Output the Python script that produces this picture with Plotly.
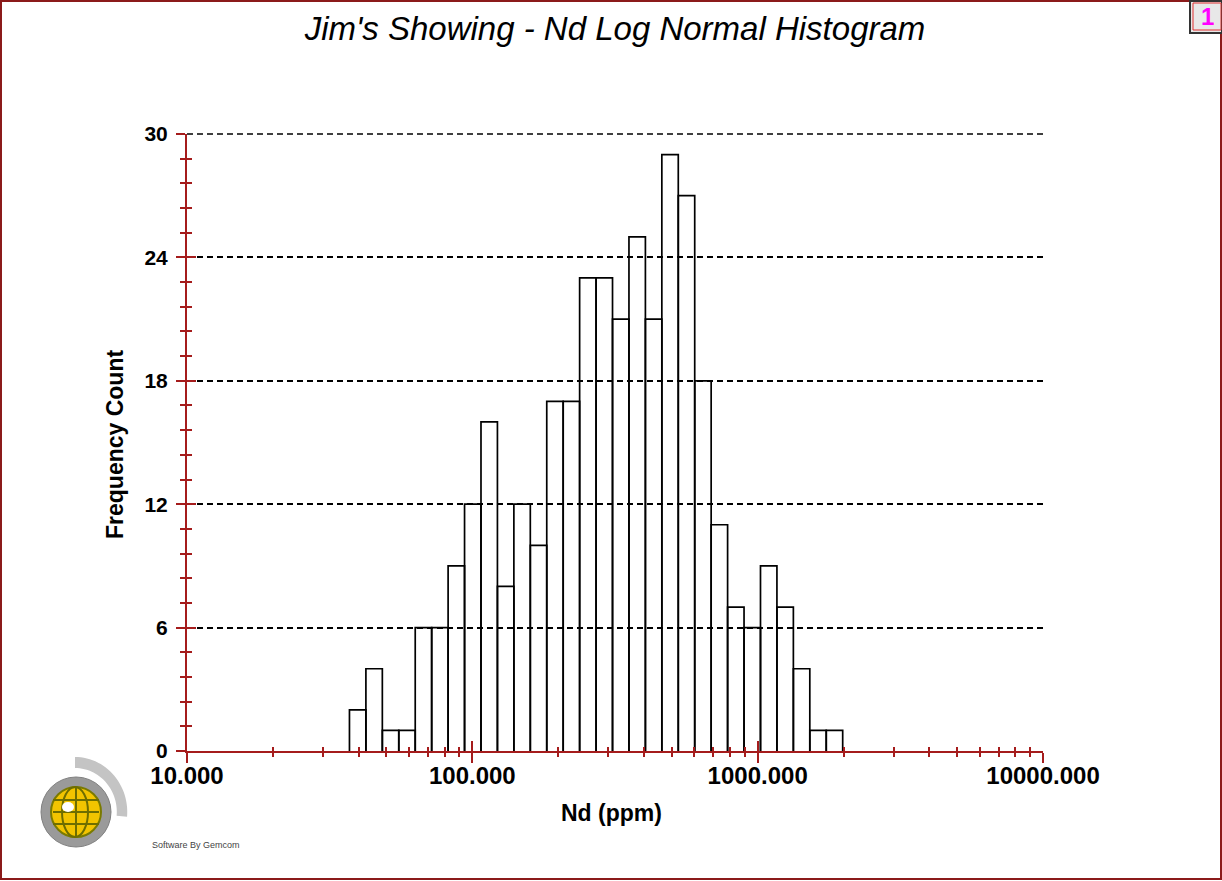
import numpy as np
import plotly.graph_objects as go

# ---- data ----
counts = [2, 4, 1, 1, 6, 6, 9, 12, 16, 8, 12, 10, 17, 17, 23, 23,
          21, 25, 21, 29, 27, 18, 11, 7, 6, 9, 7, 4, 1, 1]
bin_left_ppm = 37.1      # left edge of first bin (Nd ppm)
bin_right_ppm = 1986.0   # right edge of last bin (Nd ppm)
x_tick_vals = [10, 100, 1000, 10000]
x_tick_text = ["10.000", "100.000", "1000.000", "10000.000"]
y_tick_vals = [0, 6, 12, 18, 24, 30]

title_text = "Jim's Showing - Nd Log Normal Histogram"
x_title = "Nd (ppm)"
y_title = "Frequency Count"

# ---- layout geometry ----
W, H = 1222, 881
L, R, T, B = 187, 1043, 134, 751
PW, PH = R - L, B - T
RED = "#A51C1C"
FONT = "Liberation Sans, Arial, sans-serif"


def px(x):
    return (x - L) / PW


def py(y):
    return (B - y) / PH


edges = np.logspace(np.log10(bin_left_ppm), np.log10(bin_right_ppm), len(counts) + 1)
bx, by = [], []
for i, c in enumerate(counts):
    bx += [edges[i], edges[i], edges[i + 1], edges[i + 1], None]
    by += [0, c, c, 0, None]

fig = go.Figure()
fig.add_trace(go.Scatter(x=bx, y=by, mode="lines",
                         line=dict(color="black", width=1.7),
                         hoverinfo="skip", showlegend=False))
# invisible trace to activate overlay axes (for crossing ticks)
fig.add_trace(go.Scatter(x=[10], y=[0], xaxis="x2", yaxis="y2", mode="markers",
                         marker=dict(opacity=0), showlegend=False, hoverinfo="skip"))

minor_x = [m * d for d in (10, 100, 1000) for m in range(2, 10)]
minor_y = [round(v, 2) for v in np.arange(0, 30.01, 1.2) if all(abs(v - t) > 0.01 for t in y_tick_vals)]

xcommon = dict(type="log", range=[1, 4], tickvals=x_tick_vals, showgrid=False,
               zeroline=False, tickcolor=RED, tickwidth=2)
ycommon = dict(range=[0, 30], tickvals=y_tick_vals, zeroline=False,
               tickcolor=RED, tickwidth=2)

fig.update_layout(
    width=W, height=H,
    margin=dict(l=L, r=W - R, t=T, b=H - B),
    paper_bgcolor="white", plot_bgcolor="white",
    font=dict(family=FONT, color="black"),
    title=dict(text=title_text, x=(L + R) / 2 / W, xref="container", xanchor="center",
               y=1 - 28 / H, yref="container", yanchor="middle",
               font=dict(family=FONT, size=33, style="italic", color="black")),
    xaxis=dict(**xcommon, ticktext=x_tick_text, ticks="outside", ticklen=10,
               showline=True, linecolor=RED, linewidth=2, ticklabelstandoff=-8,
               tickfont=dict(family=FONT, size=24, weight="bold", color="black"),
               minor=dict(tickvals=minor_x, ticks="outside", ticklen=4,
                          tickcolor=RED, tickwidth=2, showgrid=False)),
    xaxis2=dict(**xcommon, overlaying="x", anchor="y", ticks="inside", ticklen=10,
                showticklabels=False, showline=False,
                minor=dict(tickvals=minor_x, ticks="inside", ticklen=4,
                           tickcolor=RED, tickwidth=2, showgrid=False)),
    yaxis=dict(**ycommon, ticks="outside", ticklen=9,
               showline=True, linecolor=RED, linewidth=2, ticklabelstandoff=4,
               showgrid=True, gridcolor="black", griddash="6px,4px", gridwidth=1.6,
               tickfont=dict(family=FONT, size=21, weight="bold", color="black"),
               minor=dict(tickvals=minor_y, ticks="outside", ticklen=5,
                          tickcolor=RED, tickwidth=2, showgrid=False)),
    yaxis2=dict(**ycommon, overlaying="y", anchor="x", side="left", ticks="inside",
                ticklen=9, showticklabels=False, showline=False, showgrid=False,
                minor=dict(tickvals=minor_y, ticks="inside", ticklen=5,
                           tickcolor=RED, tickwidth=2, showgrid=False)),
)

annotations = [
    dict(text=y_title, x=px(115), y=py(445), xref="paper", yref="paper",
         textangle=-90, showarrow=False, xanchor="center", yanchor="middle",
         font=dict(family=FONT, size=23, weight="bold", color="black")),
    dict(text=x_title, x=px(611), y=py(813), xref="paper", yref="paper",
         showarrow=False, xanchor="center", yanchor="middle",
         font=dict(family=FONT, size=23, weight="bold", color="black")),
    dict(text="Software By Gemcom", x=px(150), y=py(845), xref="paper", yref="paper",
         showarrow=False, xanchor="left", yanchor="middle",
         font=dict(family=FONT, size=9, color="#444444")),
    dict(text="1", x=px(1207), y=py(16), xref="paper", yref="paper",
         showarrow=False, xanchor="center", yanchor="middle",
         font=dict(family=FONT, size=24, weight="bold", color="#FF00FF")),
]
fig.update_layout(annotations=annotations)

shapes = []
# gridline at top of range (plotly omits it at the range edge)
shapes.append(dict(type="line", xref="paper", yref="paper", x0=0, x1=1, y0=1, y1=1,
                   line=dict(color="black", width=1.6, dash="6px,4px")))
# outer frame
shapes.append(dict(type="rect", xref="paper", yref="paper",
                   x0=px(1), x1=px(1221), y0=py(879), y1=py(1),
                   line=dict(color="#8B1A1A", width=2), layer="below"))
# top-right page box
shapes.append(dict(type="rect", xref="paper", yref="paper",
                   x0=px(1190), x1=px(1222), y0=py(33), y1=py(1),
                   line=dict(color="#333333", width=2), fillcolor="#E8E8E8"))
shapes.append(dict(type="rect", xref="paper", yref="paper",
                   x0=px(1193), x1=px(1221), y0=py(30), y1=py(3),
                   line=dict(color="#E03030", width=1), fillcolor="rgba(0,0,0,0)"))
# logo: gray arc
cx, cy = 75, 812
arc = []
for a in np.linspace(90, -5, 30):
    r = 55
    arc.append((cx + r * np.cos(np.radians(a)) * 0.95, cy - r * np.sin(np.radians(a))))
arc_in = []
for a in np.linspace(-5, 90, 30):
    r = 44
    arc_in.append((cx + r * np.cos(np.radians(a)) * 0.95, cy - r * np.sin(np.radians(a))))
pts = arc + arc_in
path = "M " + " L ".join(f"{px(x):.5f},{py(y):.5f}" for x, y in pts) + " Z"
shapes.append(dict(type="path", xref="paper", yref="paper", path=path,
                   fillcolor="#C4C4C4", line=dict(width=0)))
# globe
shapes.append(dict(type="circle", xref="paper", yref="paper",
                   x0=px(41), x1=px(111), y0=py(847), y1=py(777),
                   fillcolor="#9A9A9A", line=dict(color="#808080", width=1)))
shapes.append(dict(type="circle", xref="paper", yref="paper",
                   x0=px(51), x1=px(101), y0=py(837), y1=py(787),
                   fillcolor="#F2C400", line=dict(color="#7A7A00", width=2)))
shapes.append(dict(type="circle", xref="paper", yref="paper",
                   x0=px(62), x1=px(88), y0=py(837), y1=py(787),
                   fillcolor="rgba(0,0,0,0)", line=dict(color="#6E6E00", width=2)))
shapes.append(dict(type="line", xref="paper", yref="paper",
                   x0=px(76), x1=px(76), y0=py(837), y1=py(787),
                   line=dict(color="#6E6E00", width=2)))
for yy in (800, 812, 824):
    shapes.append(dict(type="line", xref="paper", yref="paper",
                       x0=px(53), x1=px(99), y0=py(yy), y1=py(yy),
                       line=dict(color="#6E6E00", width=2)))
shapes.append(dict(type="circle", xref="paper", yref="paper",
                   x0=px(62), x1=px(74), y0=py(812), y1=py(802),
                   fillcolor="white", line=dict(width=0)))
fig.update_layout(shapes=shapes)

fig.write_html("out.html")
